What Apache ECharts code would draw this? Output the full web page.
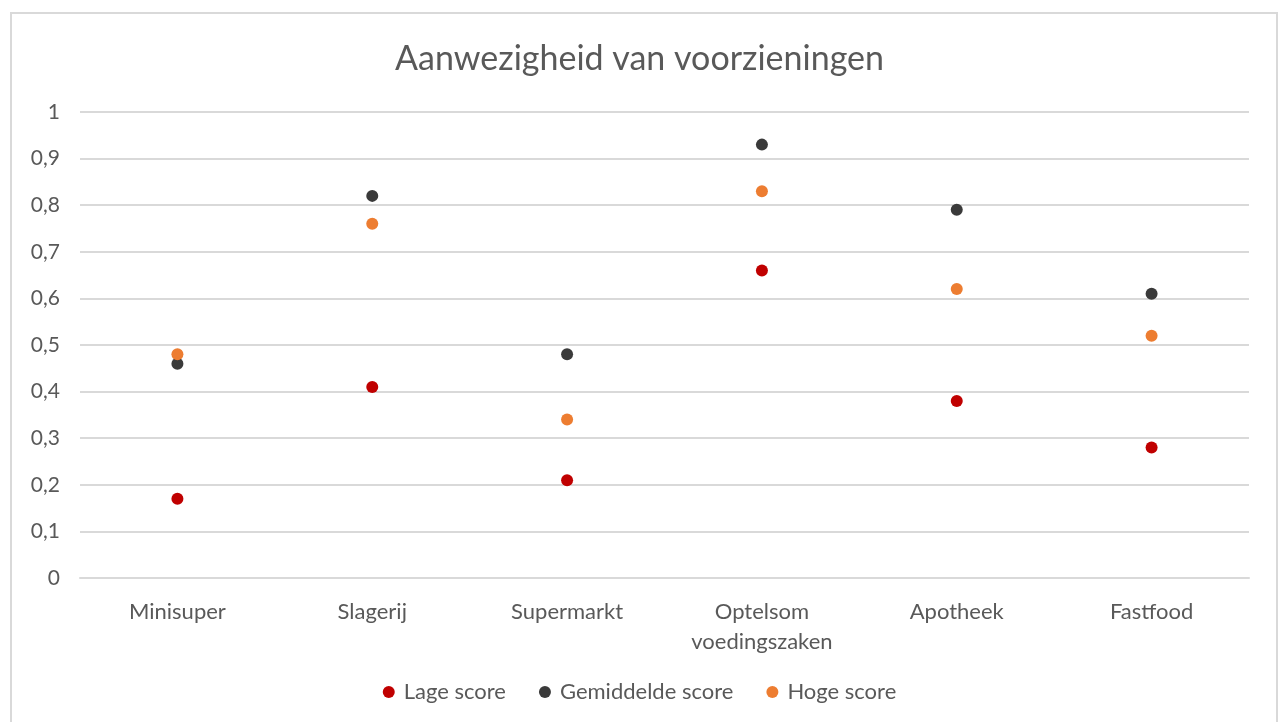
<!DOCTYPE html>
<html><head><meta charset="utf-8">
<script src="https://cdn.jsdelivr.net/npm/echarts@6/dist/echarts.min.js"></script>
<style>html,body{margin:0;padding:0;background:#fff}#c{width:1279px;height:722px}</style>
</head><body><div id="c"></div>
<script>
const categories = ['Minisuper', 'Slagerij', 'Supermarkt', 'Optelsom\nvoedingszaken', 'Apotheek', 'Fastfood'];
const lageScore = [0.17, 0.41, 0.21, 0.66, 0.38, 0.28];
const gemiddeldeScore = [0.46, 0.82, 0.48, 0.93, 0.79, 0.61];
const hogeScore = [0.48, 0.76, 0.34, 0.83, 0.62, 0.52];
const seriesNames = ['Lage score', 'Gemiddelde score', 'Hoge score'];
const colors = ['#C00000', '#3A3A3A', '#ED7D31'];

const font = 'Lato, "Open Sans", sans-serif';
const chart = echarts.init(document.getElementById('c'));
const mk = (name, data, color) => ({
  name, type: 'scatter', data, symbol: 'circle', symbolSize: 12,
  itemStyle: { color, opacity: 1 }, z: 3
});
chart.setOption({
  animation: false,
  textStyle: { fontFamily: font },
  graphic: [{ type: 'rect', shape: { x: 11, y: 13, width: 1266, height: 730 },
    style: { fill: 'none', stroke: '#d9d9d9', lineWidth: 2 }, silent: true }],
  title: { text: 'Aanwezigheid van voorzieningen', left: 'center', top: 37,
    textStyle: { fontFamily: font, fontSize: 34, fontWeight: 'normal', color: '#595959' } },
  legend: { bottom: 14, left: 'center', itemGap: 33, itemWidth: 12, itemHeight: 12,
    icon: 'circle', textStyle: { fontFamily: font, fontSize: 22, color: '#595959', padding: [0, 0, 0, 4] },
    data: seriesNames },
  grid: { left: 80, right: 30, top: 112, bottom: 144, containLabel: false },
  xAxis: { type: 'category', data: categories, boundaryGap: true,
    axisLine: { lineStyle: { color: '#d9d9d9', width: 2 } }, axisTick: { show: false },
    axisLabel: { color: '#595959', fontSize: 22, fontFamily: font, margin: 19, lineHeight: 30, interval: 0 } },
  yAxis: { type: 'value', min: 0, max: 1, interval: 0.1,
    axisLine: { show: false }, axisTick: { show: false },
    splitLine: { lineStyle: { color: '#d9d9d9', width: 2 } },
    axisLabel: { color: '#595959', fontSize: 21, fontFamily: font, margin: 20,
      formatter: v => String(Math.round(v * 10) / 10).replace('.', ',') } },
  series: [mk(seriesNames[0], lageScore, colors[0]), mk(seriesNames[1], gemiddeldeScore, colors[1]), mk(seriesNames[2], hogeScore, colors[2])]
});
</script></body></html>
